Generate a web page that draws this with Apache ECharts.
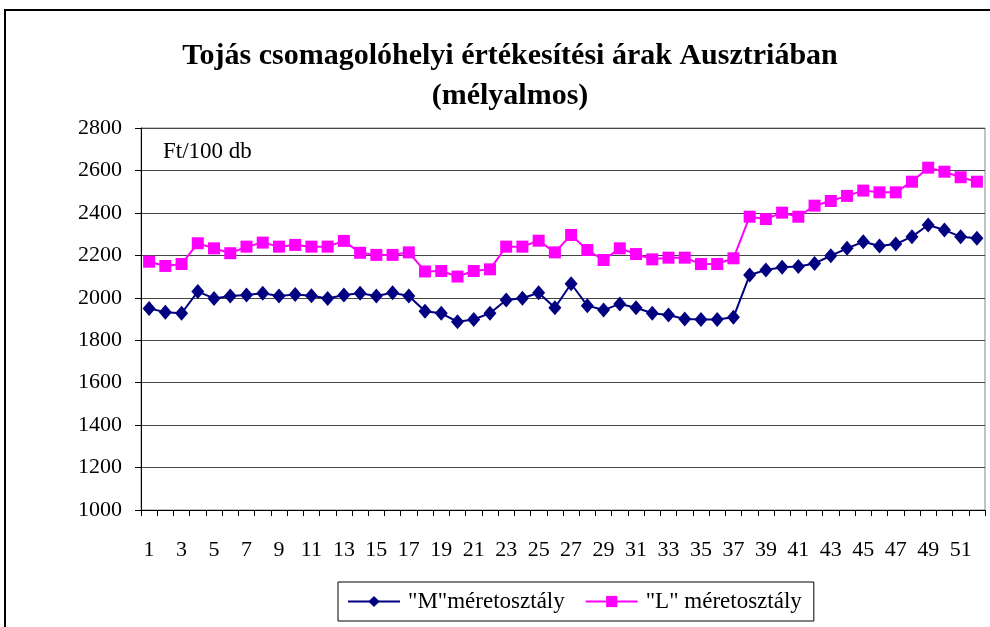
<!DOCTYPE html>
<html><head><meta charset="utf-8">
<script src="https://cdn.jsdelivr.net/npm/echarts@6/dist/echarts.min.js"></script>
<style>html,body{margin:0;padding:0;background:#fff}#c{width:990px;height:627px}</style>
</head><body><div id="c"></div>
<script>
const categories = Array.from({length: 52}, (_, i) => String(i + 1));
const seriesM = [1950,1932,1927,2029,1997,2008,2013,2021,2008,2016,2010,1997,2013,2021,2008,2024,2008,1937,1927,1887,1898,1927,1990,1998,2024,1953,2066,1963,1942,1971,1953,1927,1919,1900,1898,1898,1908,2107,2131,2144,2147,2162,2198,2233,2264,2244,2253,2288,2343,2319,2288,2280];
const seriesL = [2170,2150,2159,2257,2233,2210,2241,2260,2241,2249,2241,2241,2268,2212,2202,2202,2214,2124,2126,2100,2126,2134,2241,2241,2269,2214,2296,2225,2178,2233,2206,2181,2189,2189,2159,2159,2186,2382,2371,2401,2382,2434,2456,2480,2505,2497,2497,2547,2613,2594,2568,2547];
const yTicks = {min: 1000, max: 2800, interval: 200};
const titleText = 'Tojás csomagolóhelyi értékesítési árak Ausztriában\n(mélyalmos)';
const unitText = 'Ft/100 db';
const nameM = '"M"méretosztály';
const nameL = '"L" méretosztály';

const font = 'Liberation Serif, Times New Roman, serif';
const chart = echarts.init(document.getElementById('c'));
chart.setOption({
  animation: false,
  backgroundColor: '#fff',
  textStyle: {fontFamily: font},
  title: {
    text: titleText,
    left: 505, top: 31, textAlign: 'center',
    textStyle: {fontSize: 30, fontWeight: 'bold', fontFamily: font, color: '#000', lineHeight: 40}
  },
  graphic: [
    {type: 'rect', shape: {x: 5, y: 10, width: 1000, height: 700}, style: {fill: 'none', stroke: '#000', lineWidth: 2}, silent: true},
    {type: 'text', left: 163, top: 140, style: {text: unitText, font: '23px ' + font, fill: '#000'}}
  ],
  legend: {
    left: 338, top: 582,
    itemWidth: 52, itemHeight: 14, itemGap: 20,
    padding: [8, 12, 8, 9],
    borderColor: '#000', borderWidth: 1,
    textStyle: {fontSize: 23, fontFamily: font, color: '#000', padding: [0, 0, 0, 3]},
    data: [nameM, nameL]
  },
  grid: {left: 141, right: 5, top: 128, bottom: 117, containLabel: false, show: true, borderColor: '#888', borderWidth: 1},
  xAxis: {
    type: 'category', data: categories, boundaryGap: true,
    axisLine: {lineStyle: {color: '#000', width: 1}},
    axisTick: {show: true, interval: 0, length: 6, lineStyle: {color: '#000'}},
    axisLabel: {interval: 1, margin: 29, fontSize: 22, fontFamily: font, color: '#000'},
    splitLine: {show: false}
  },
  yAxis: {
    type: 'value', min: yTicks.min, max: yTicks.max, interval: yTicks.interval,
    axisLine: {show: true, lineStyle: {color: '#000', width: 1}},
    axisTick: {show: true, length: 6, lineStyle: {color: '#000'}},
    axisLabel: {margin: 19, fontSize: 22, fontFamily: font, color: '#000', formatter: v => String(v)},
    splitLine: {show: true, lineStyle: {color: '#444', width: 1}}
  },
  series: [
    {name: nameM, type: 'line', data: seriesM, symbol: 'diamond', symbolSize: [13, 15], showAllSymbol: true,
     itemStyle: {color: '#000080'}, lineStyle: {color: '#000080', width: 2}},
    {name: nameL, type: 'line', data: seriesL, symbol: 'rect', symbolSize: 12, showAllSymbol: true,
     itemStyle: {color: '#FF00FF'}, lineStyle: {color: '#FF00FF', width: 2}}
  ]
});
</script></body></html>
